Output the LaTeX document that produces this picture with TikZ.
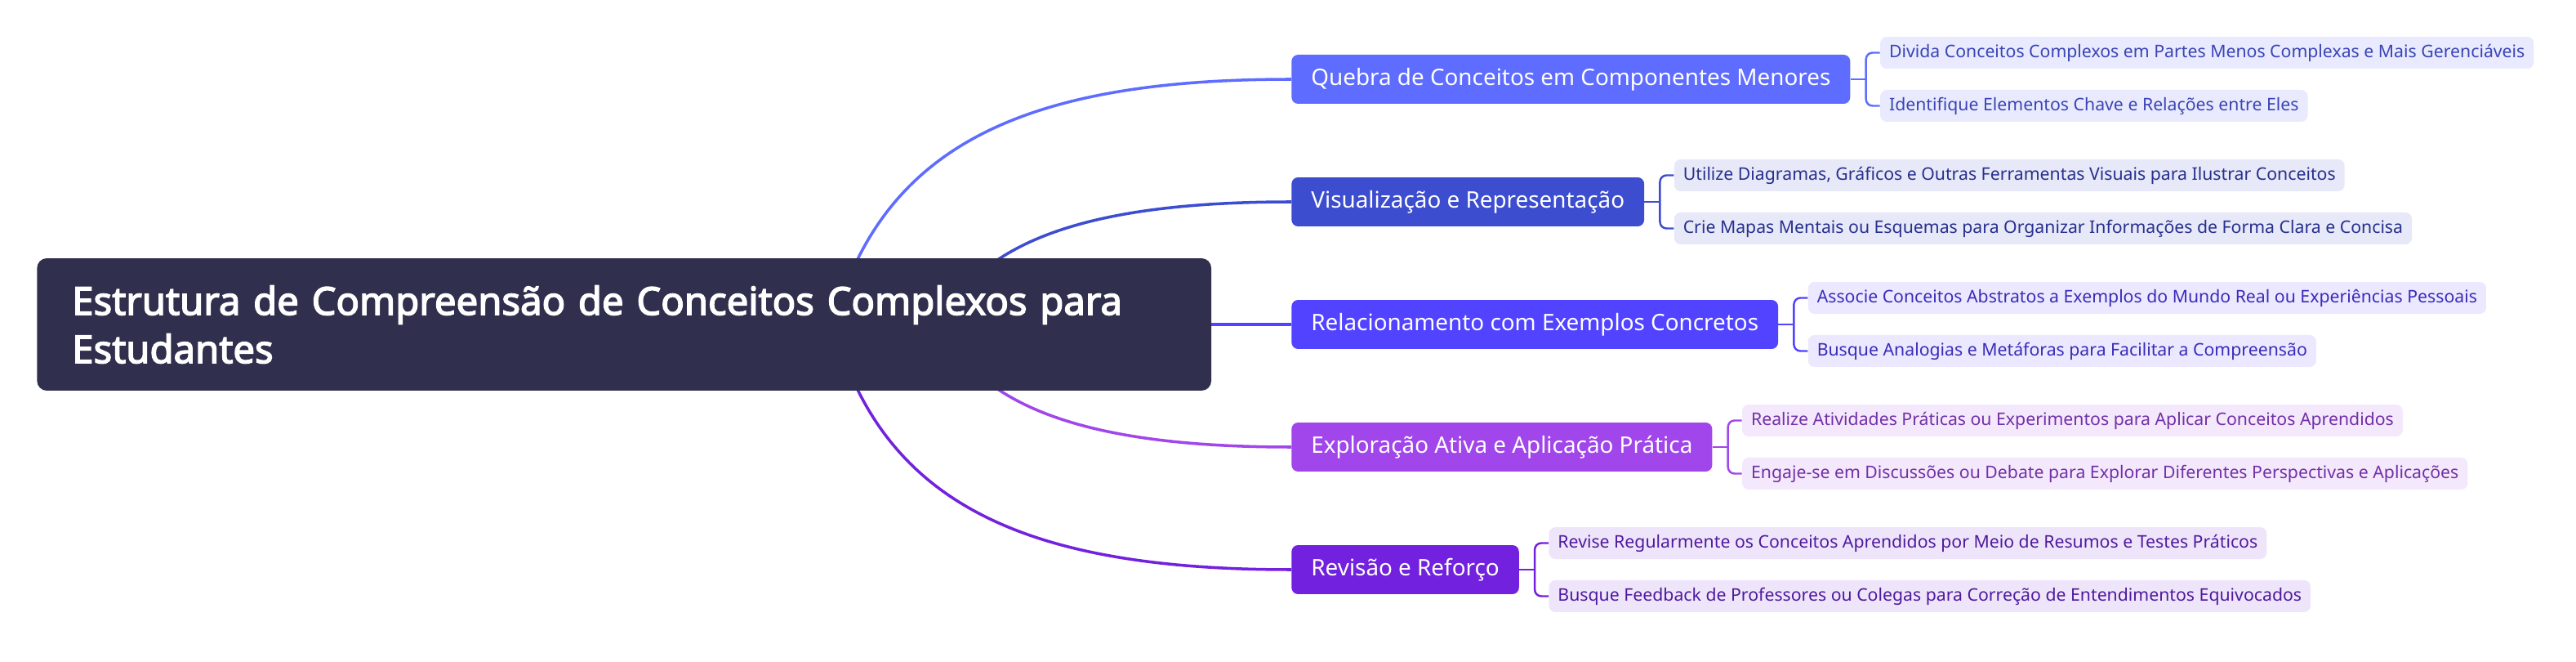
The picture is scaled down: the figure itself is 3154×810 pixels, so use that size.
\documentclass[tikz,border=0pt]{standalone}
\usepackage{fontspec}
\setmainfont{Noto Sans}[AutoFakeBold=3]
\usetikzlibrary{positioning, backgrounds}
\definecolor{rootFill}{RGB}{48,47,77}
\definecolor{qBlue}{RGB}{94,108,255}
\definecolor{vBlue}{RGB}{61,77,208}
\definecolor{rViolet}{RGB}{81,67,255}
\definecolor{ePurple}{RGB}{161,70,234}
\definecolor{rvPurple}{RGB}{114,33,222}
\definecolor{qLeaf}{RGB}{233,234,254}
\definecolor{vLeaf}{RGB}{231,232,248}
\definecolor{rLeaf}{RGB}{235,232,255}
\definecolor{eLeaf}{RGB}{244,232,252}
\definecolor{rvLeaf}{RGB}{239,229,251}
\definecolor{qText}{RGB}{58,68,181}
\definecolor{vText}{RGB}{39,48,142}
\definecolor{rText}{RGB}{58,44,184}
\definecolor{eText}{RGB}{114,48,168}
\definecolor{rvText}{RGB}{78,26,158}

\tikzset{
  rootbox/.style={fill=rootFill, text=white, rounded corners=0.24cm,
    minimum height=3.24cm, text width=27.04cm, inner xsep=0.86cm, align=left,
    font=\fontsize{26.9pt}{33.6pt}\selectfont\bfseries},
  branch/.style={rounded corners=0.16cm, text=white, minimum height=1.2cm,
    inner xsep=0.48cm, font=\fontsize{15.85pt}{19pt}\selectfont},
  leaf/.style={rounded corners=0.16cm, minimum height=0.78cm,
    inner xsep=0.22cm, font=\fontsize{12.1pt}{14pt}\selectfont},
  link/.style={line width=2pt},
  brace/.style={line width=1.4pt, rounded corners=0.16cm},
}

\begin{document}
\begin{tikzpicture}[x=0.02cm, y=-0.02cm]
  \useasboundingbox (0,0) rectangle (3154,810);

  % central topic
  \node[rootbox, anchor=west] (root) at (45,397)
    {Estrutura de Compreensão de Conceitos Complexos para\\Estudantes};

  % main branches
  \node[branch, fill=qBlue,    anchor=west] (q)  at (1581,97)  {Quebra de Conceitos em Componentes Menores};
  \node[branch, fill=vBlue,    anchor=west] (v)  at (1581,247) {Visualização e Representação};
  \node[branch, fill=rViolet,  anchor=west] (r)  at (1581,397) {Relacionamento com Exemplos Concretos};
  \node[branch, fill=ePurple,  anchor=west] (e)  at (1581,547) {Exploração Ativa e Aplicação Prática};
  \node[branch, fill=rvPurple, anchor=west] (rv) at (1581,697) {Revisão e Reforço};

  % leaves
  \node[leaf, fill=qLeaf, text=qText, anchor=west] (q1) at ([xshift=0.72cm, yshift=0.65cm]q.east)
    {Divida Conceitos Complexos em Partes Menos Complexas e Mais Gerenciáveis};
  \node[leaf, fill=qLeaf, text=qText, anchor=west] (q2) at ([xshift=0.72cm, yshift=-0.65cm]q.east)
    {Identifique Elementos Chave e Relações entre Eles};
  \node[leaf, fill=vLeaf, text=vText, anchor=west] (v1) at ([xshift=0.72cm, yshift=0.65cm]v.east)
    {Utilize Diagramas, Gráficos e Outras Ferramentas Visuais para Ilustrar Conceitos};
  \node[leaf, fill=vLeaf, text=vText, anchor=west] (v2) at ([xshift=0.72cm, yshift=-0.65cm]v.east)
    {Crie Mapas Mentais ou Esquemas para Organizar Informações de Forma Clara e Concisa};
  \node[leaf, fill=rLeaf, text=rText, anchor=west] (r1) at ([xshift=0.72cm, yshift=0.65cm]r.east)
    {Associe Conceitos Abstratos a Exemplos do Mundo Real ou Experiências Pessoais};
  \node[leaf, fill=rLeaf, text=rText, anchor=west] (r2) at ([xshift=0.72cm, yshift=-0.65cm]r.east)
    {Busque Analogias e Metáforas para Facilitar a Compreensão};
  \node[leaf, fill=eLeaf, text=eText, anchor=west] (e1) at ([xshift=0.72cm, yshift=0.65cm]e.east)
    {Realize Atividades Práticas ou Experimentos para Aplicar Conceitos Aprendidos};
  \node[leaf, fill=eLeaf, text=eText, anchor=west] (e2) at ([xshift=0.72cm, yshift=-0.65cm]e.east)
    {Engaje-se em Discussões ou Debate para Explorar Diferentes Perspectivas e Aplicações};
  \node[leaf, fill=rvLeaf, text=rvText, anchor=west] (rv1) at ([xshift=0.72cm, yshift=0.65cm]rv.east)
    {Revise Regularmente os Conceitos Aprendidos por Meio de Resumos e Testes Práticos};
  \node[leaf, fill=rvLeaf, text=rvText, anchor=west] (rv2) at ([xshift=0.72cm, yshift=-0.65cm]rv.east)
    {Busque Feedback de Professores ou Colegas para Correção de Entendimentos Equivocados};

  % bracket joints
  \coordinate (qj)  at ([xshift=0.38cm]q.east);
  \coordinate (vj)  at ([xshift=0.38cm]v.east);
  \coordinate (rj)  at ([xshift=0.38cm]r.east);
  \coordinate (ej)  at ([xshift=0.38cm]e.east);
  \coordinate (rvj) at ([xshift=0.38cm]rv.east);

  % curve starts (behind the central topic)
  \coordinate (hq)  at (1020,397);
  \coordinate (hv)  at (1150,397);
  \coordinate (he)  at (1150,397);
  \coordinate (hrv) at (1020,397);

  % white page + root -> branches
  \begin{scope}[on background layer]
    \fill[white] (0,0) rectangle (3154,810);
    \draw[link, qBlue]    (hq)  .. controls (1080,180) and (1250,97)  .. (q.west);
    \draw[link, vBlue]    (hv)  .. controls (1200,300) and (1320,247) .. (v.west);
    \draw[link, rViolet]  (root.east) -- (r.west);
    \draw[link, ePurple]  (he)  .. controls (1200,494) and (1320,547) .. (e.west);
    \draw[link, rvPurple] (hrv) .. controls (1080,614) and (1250,697) .. (rv.west);
  \end{scope}

  % branches -> leaves
  \draw[brace, qBlue] (q.east) -- (qj);
  \draw[brace, qBlue] (q1.west) -| (qj) |- (q2.west);
  \draw[brace, vBlue] (v.east) -- (vj);
  \draw[brace, vBlue] (v1.west) -| (vj) |- (v2.west);
  \draw[brace, rViolet] (r.east) -- (rj);
  \draw[brace, rViolet] (r1.west) -| (rj) |- (r2.west);
  \draw[brace, ePurple] (e.east) -- (ej);
  \draw[brace, ePurple] (e1.west) -| (ej) |- (e2.west);
  \draw[brace, rvPurple] (rv.east) -- (rvj);
  \draw[brace, rvPurple] (rv1.west) -| (rvj) |- (rv2.west);
\end{tikzpicture}
\end{document}
